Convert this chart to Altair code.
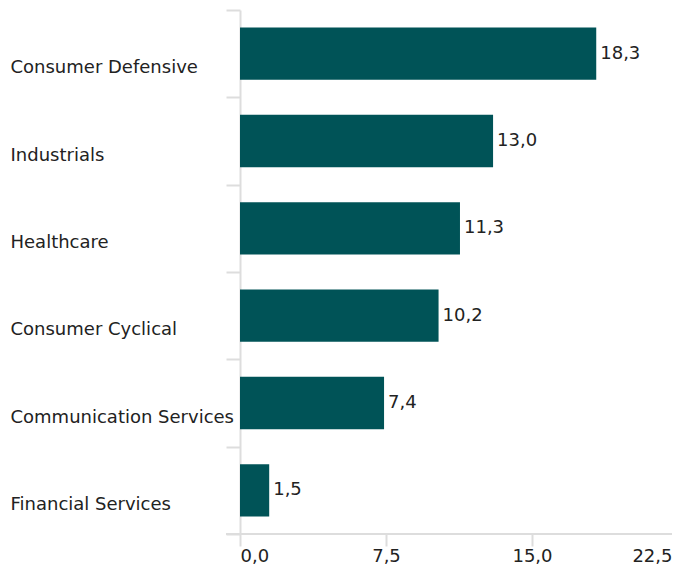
import altair as alt
import pandas as pd

sectors = ["Consumer Defensive", "Industrials", "Healthcare", "Consumer Cyclical",
           "Communication Services", "Financial Services"]
values = [18.3, 13.0, 11.3, 10.2, 7.4, 1.5]
labels = ["18,3", "13,0", "11,3", "10,2", "7,4", "1,5"]
x_ticks = [0, 7.5, 15, 22.5]

df = pd.DataFrame({"sector": sectors, "value": values, "label": labels})

FONT = "DejaVu Sans"
FS = 18
W, H = 438, 524

y_enc = alt.Y("sector:N", sort=sectors,
              scale=alt.Scale(paddingInner=0, paddingOuter=0),
              axis=alt.Axis(title=None, labelAlign="left", labelPadding=216, tickSize=14,
                            tickBand="extent", labelOffset=14, labelFontSize=FS,
                            labelFont=FONT, labelColor="#222222", domainColor="#dddddd",
                            tickColor="#dddddd", domainWidth=2, tickWidth=2, labelLimit=300))
x_enc = alt.X("value:Q", scale=alt.Scale(domain=[0, 22.5], nice=False),
              axis=alt.Axis(title=None, values=x_ticks,
                            labelExpr="replace(format(datum.value, '.1f'), '.', ',')",
                            labelFlush=True,
                            labelOffset={"condition": {"test": "datum.value == 22.5", "value": -6},
                                         "value": 0},
                            grid=False, domain=False, tickSize=12, tickColor="#dddddd",
                            tickWidth=2, labelFontSize=FS, labelFont=FONT,
                            labelColor="#222222", labelPadding=1))

bars = alt.Chart(df).mark_bar(color="#005357", height={"band": 0.6}).encode(x=x_enc, y=y_enc)
text = alt.Chart(df).mark_text(align="left", baseline="middle", dx=4, fontSize=FS,
                               font=FONT, color="#222222").encode(
    x="value:Q", y=alt.Y("sector:N", sort=sectors), text="label:N")
rule = alt.Chart(df).mark_rule(color="#dddddd", strokeWidth=2).encode(
    x=alt.value(-14), x2=alt.value(W + 2), y=alt.value(H))

chart = alt.layer(bars, text, rule).properties(
    width=W, height=H, autosize=alt.AutoSizeParams(type="none"),
    padding={"left": 232, "top": 2, "right": -6, "bottom": 31}
).configure_view(stroke=None)

chart.save("out.html", embed_options={"renderer": "svg", "actions": False})
